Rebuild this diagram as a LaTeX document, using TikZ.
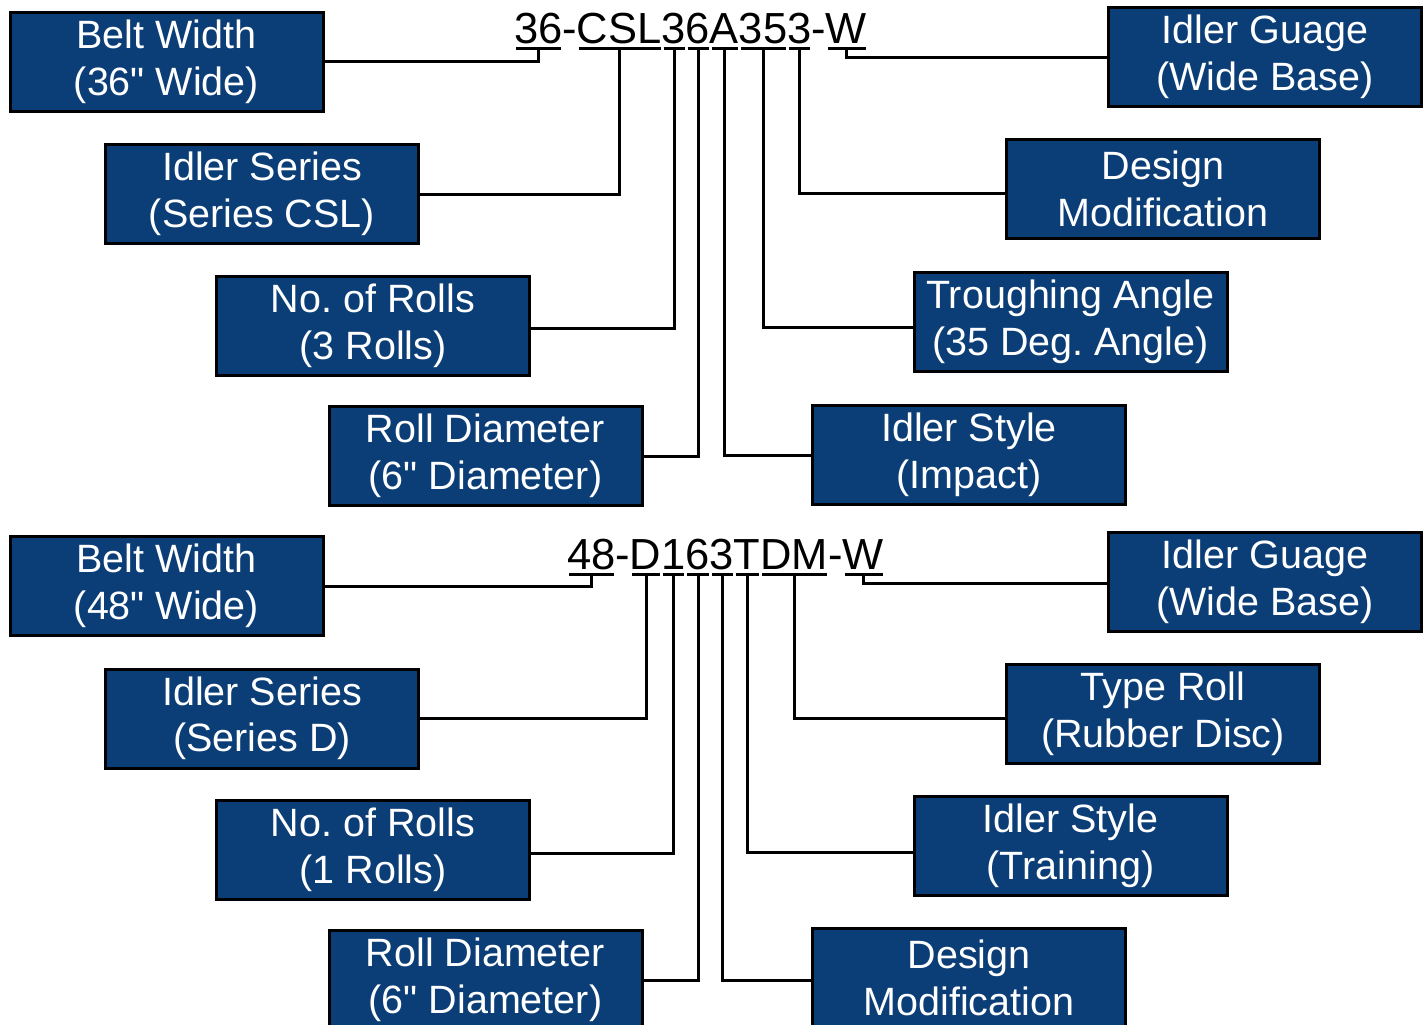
\documentclass[tikz,border=0pt]{standalone}
\usepackage{fontspec}
\setmainfont{Liberation Sans}
\definecolor{boxblue}{RGB}{11,61,119}
\frenchspacing
\newcommand{\qd}{\textquotedbl}
\begin{document}
\begin{tikzpicture}[x=1pt,y=-1pt,
  lbl/.style={draw=black, line width=3pt, fill=boxblue, text=white,
    minimum width=313pt, minimum height=99pt, inner sep=0pt, align=center,
    font=\fontsize{39.5}{46.5}\selectfont},
  code/.style={inner sep=0pt, outer sep=0pt, anchor=base west,
    font=\fontsize{43.5}{50}\selectfont},
  ul/.style={line width=3pt},
  conn/.style={line width=3pt, line join=miter}]
\useasboundingbox (0,0) rectangle (1427,1025);
% ---------- top code ----------
\node[code] (a1) at (514,44) {36};
\node[code] (a2) at (a1.base east) {-};
\node[code] (a3) at (a2.base east) {CSL};
\node[code] (a4) at (a3.base east) {3};
\node[code] (a5) at (a4.base east) {6};
\node[code] (a6) at (a5.base east) {A};
\node[code] (a7) at (a6.base east) {35};
\node[code] (a8) at (a7.base east) {3};
\node[code] (a9) at (a8.base east) {-};
\node[code] (a10) at (a9.base east) {W};
\foreach \n in {1,3,4,5,6,7,8,10}{
  \draw[ul] ([xshift=2pt,yshift=-5pt]a\n.base west) -- ([xshift=-1pt,yshift=-5pt]a\n.base east);
  \coordinate (ua\n) at ([xshift=0.5pt,yshift=-5pt]a\n.base);
}
% ---------- top boxes ----------
\node[lbl] (bw1) at (166.5,62) {Belt Width\\(36\qd{} Wide)};
\node[lbl] (is1) at (262,194) {Idler Series\\(Series CSL)};
\node[lbl] (nr1) at (373,326) {No. of Rolls\\(3 Rolls)};
\node[lbl] (rd1) at (485.5,456) {Roll Diameter\\(6\qd{} Diameter)};
\node[lbl] (ig1) at (1265,57) {Idler Guage\\(Wide Base)};
\node[lbl] (dm1) at (1163,189) {Design\\Modification};
\node[lbl] (ta1) at (1070.5,322) {Troughing Angle\\(35 Deg. Angle)};
\node[lbl] (st1) at (969,455) {Idler Style\\(Impact)};
\draw[conn] (ua1) |- (bw1.east);
\draw[conn] (ua3) |- (is1.east);
\draw[conn] (ua4) |- ([yshift=-2pt]nr1.east);
\draw[conn] (ua5) |- (rd1.east);
\draw[conn] (ua6) |- (st1.west);
\draw[conn] (ua7) |- ([yshift=-5pt]ta1.west);
\draw[conn] (ua8) |- ([yshift=-4pt]dm1.west);
\draw[conn] (ua10) |- ([yshift=-1pt]ig1.west);
% ---------- bottom code ----------
\node[code] (b1) at (567,569) {48};
\node[code] (b2) at (b1.base east) {-};
\node[code] (b3) at (b2.base east) {D};
\node[code] (b4) at (b3.base east) {1};
\node[code] (b5) at (b4.base east) {6};
\node[code] (b6) at (b5.base east) {3};
\node[code] (b7) at (b6.base east) {T};
\node[code] (b8) at (b7.base east) {DM};
\node[code] (b9) at (b8.base east) {-};
\node[code] (b10) at (b9.base east) {W};
\foreach \n in {1,3,4,5,6,7,8,10}{
  \draw[ul] ([xshift=2pt,yshift=-5pt]b\n.base west) -- ([xshift=-1pt,yshift=-5pt]b\n.base east);
  \coordinate (ub\n) at ([xshift=0.5pt,yshift=-5pt]b\n.base);
}
% ---------- bottom boxes ----------
\node[lbl] (bw2) at (166.5,586) {Belt Width\\(48\qd{} Wide)};
\node[lbl] (is2) at (262,718.5) {Idler Series\\(Series D)};
\node[lbl] (nr2) at (373,850) {No. of Rolls\\(1 Rolls)};
\node[lbl] (rd2) at (485.5,980) {Roll Diameter\\(6\qd{} Diameter)};
\node[lbl] (ig2) at (1265,582) {Idler Guage\\(Wide Base)};
\node[lbl] (tr2) at (1163,714) {Type Roll\\(Rubber Disc)};
\node[lbl] (st2) at (1070.5,846) {Idler Style\\(Training)};
\node[lbl] (dm2) at (969,978) {Design\\Modification};
\draw[conn] (ub1) |- (bw2.east);
\draw[conn] (ub3) |- (is2.east);
\draw[conn] (ub4) |- ([yshift=-3pt]nr2.east);
\draw[conn] (ub5) |- (rd2.east);
\draw[conn] (ub6) |- ([yshift=-2pt]dm2.west);
\draw[conn] (ub7) |- ([yshift=-6pt]st2.west);
\draw[conn] (ub8) |- ([yshift=-4pt]tr2.west);
\draw[conn] (ub10) |- ([yshift=-1pt]ig2.west);
\end{tikzpicture}
\end{document}
